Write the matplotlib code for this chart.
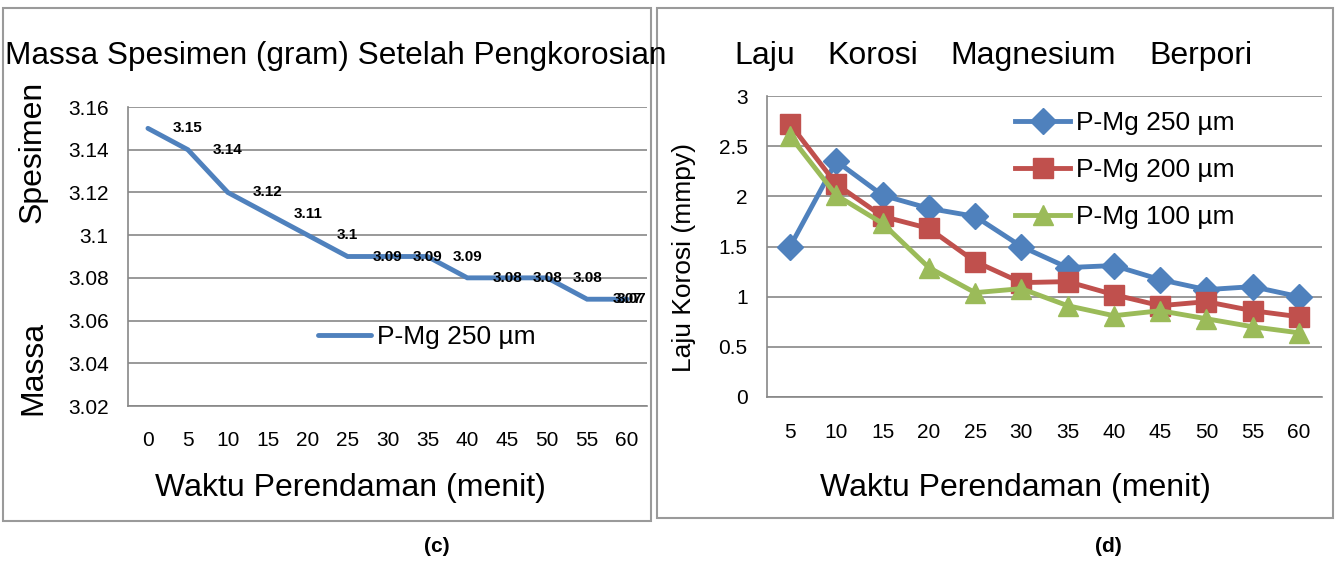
import matplotlib
matplotlib.use('Agg')
from matplotlib import pyplot as plt
from matplotlib.patches import Rectangle
import numpy as np

plt.rcParams['font.family'] = ['Liberation Sans', 'DejaVu Sans']

# panel (c): mass after corrosion
waktu_c = [0, 5, 10, 15, 20, 25, 30, 35, 40, 45, 50, 55, 60]
massa_250 = [3.15, 3.14, 3.12, 3.11, 3.10, 3.09, 3.09, 3.09, 3.08, 3.08, 3.08, 3.07, 3.07]
label_massa = ['3.15', '3.14', '3.12', '3.11', '3.1', '3.09', '3.09', '3.09', '3.08', '3.08', '3.08', '3.07', '3.07']
yticks_c = [3.02, 3.04, 3.06, 3.08, 3.1, 3.12, 3.14, 3.16]
yticklabels_c = ['3.02', '3.04', '3.06', '3.08', '3.1', '3.12', '3.14', '3.16']

# panel (d): corrosion rate
waktu_d = [5, 10, 15, 20, 25, 30, 35, 40, 45, 50, 55, 60]
laju_250 = [1.50, 2.35, 2.01, 1.88, 1.80, 1.50, 1.29, 1.31, 1.17, 1.07, 1.10, 1.00]
laju_200 = [2.72, 2.12, 1.80, 1.68, 1.35, 1.14, 1.15, 1.02, 0.91, 0.95, 0.86, 0.80]
laju_100 = [2.60, 2.01, 1.73, 1.29, 1.04, 1.08, 0.91, 0.81, 0.86, 0.78, 0.70, 0.64]
yticks_d = [0, 0.5, 1, 1.5, 2, 2.5, 3]
yticklabels_d = ['0', '0.5', '1', '1.5', '2', '2.5', '3']

W, H = 1336, 561
BLUE = '#4F81BD'
RED = '#C0504D'
GREEN = '#9BBB59'
GRID = '#878787'

fig = plt.figure(figsize=(W / 100, H / 100), dpi=100)


def rect(x0, y0, x1, y1):
    return [x0 / W, 1 - y1 / H, (x1 - x0) / W, (y1 - y0) / H]


def fx(x):
    return x / W


def fy(y):
    return 1 - y / H


# panel frames
for (x0, y0, x1, y1) in [(3, 8, 651, 521), (657, 8, 1333, 518)]:
    fig.patches.append(Rectangle((x0 / W, 1 - y1 / H), (x1 - x0) / W, (y1 - y0) / H,
                                 transform=fig.transFigure, fill=False,
                                 edgecolor='#9a9a9a', lw=1.5))


def style_axes(ax):
    for s in ['top', 'right']:
        ax.spines[s].set_visible(False)
    for s in ['left', 'bottom']:
        ax.spines[s].set_color(GRID)
        ax.spines[s].set_linewidth(1.2)
    ax.yaxis.grid(True, color=GRID, lw=1.2)
    ax.set_axisbelow(True)
    ax.tick_params(length=0, labelsize=15)
    ax.tick_params(axis='y', pad=14)


# ---- (c)
ax1 = fig.add_axes(rect(128, 107, 647, 406))
xc = np.arange(len(waktu_c))
ax1.plot(xc, massa_250, color=BLUE, lw=3.5, solid_capstyle='round',
         solid_joinstyle='miter', label='P-Mg 250 µm')
ax1.set_xlim(-0.5, len(waktu_c) - 0.5)
ax1.set_ylim(3.02, 3.16)
ax1.set_yticks(yticks_c)
ax1.set_yticklabels(yticklabels_c)
ax1.set_xticks(xc)
ax1.set_xticklabels([str(v) for v in waktu_c])
style_axes(ax1)
ax1.tick_params(axis='x', pad=18)
for i, (v, t) in enumerate(zip(massa_250, label_massa)):
    xl = i + 1 if i < len(xc) - 1 else i + 0.1
    ax1.text(xl, v, t, ha='center', va='center', fontsize=11, fontweight='bold')
ax1.legend(loc='center left', bbox_to_anchor=(fx(318), fy(337)),
           bbox_transform=fig.transFigure, frameon=False, fontsize=19,
           handlelength=2.0, handletextpad=0.25, borderpad=0, borderaxespad=0)

fig.text(fx(5), fy(56), 'Massa Spesimen (gram) Setelah Pengkorosian',
         fontsize=22.7, ha='left', va='center')
fig.text(fx(33), fy(368), 'Massa', fontsize=23, rotation=90, ha='center', va='center')
fig.text(fx(33), fy(152), 'Spesimen', fontsize=23, rotation=90, ha='center', va='center')
fig.text(fx(350), fy(488), 'Waktu Perendaman (menit)', fontsize=23, ha='center', va='center')
fig.text(fx(437), fy(546), '(c)', fontsize=15, fontweight='bold', ha='center', va='center')

# ---- (d)
ax2 = fig.add_axes(rect(767, 96, 1322, 397))
xd = np.arange(len(waktu_d))
ax2.plot(xd, laju_250, color=BLUE, lw=3.5, marker='D', ms=13, label='P-Mg 250 µm')
ax2.plot(xd, laju_200, color=RED, lw=3.5, marker='s', ms=14, label='P-Mg 200 µm')
ax2.plot(xd, laju_100, color=GREEN, lw=3.5, marker='^', ms=15, label='P-Mg 100 µm')
ax2.set_xlim(-0.5, len(waktu_d) - 0.5)
ax2.set_ylim(0, 3)
ax2.set_yticks(yticks_d)
ax2.set_yticklabels(yticklabels_d)
ax2.set_xticks(xd)
ax2.set_xticklabels([str(v) for v in waktu_d])
style_axes(ax2)
ax2.tick_params(axis='x', pad=19)
fig.text(fx(684), fy(257), 'Laju Korosi (mmpy)', fontsize=19, rotation=90,
         ha='center', va='center')
ax2.legend(loc='upper left', bbox_to_anchor=(fx(1015), fy(111)),
           bbox_transform=fig.transFigure, frameon=False, fontsize=19,
           handlelength=2.1, handletextpad=0.2, labelspacing=0.88,
           borderpad=0, borderaxespad=0, numpoints=1)

for word, xc_ in zip(['Laju', 'Korosi', 'Magnesium', 'Berpori'], [765, 873, 1033, 1201]):
    fig.text(fx(xc_), fy(56), word, fontsize=23, ha='center', va='center')
fig.text(fx(1015), fy(488), 'Waktu Perendaman (menit)', fontsize=23, ha='center', va='center')
fig.text(fx(1108), fy(546), '(d)', fontsize=15, fontweight='bold', ha='center', va='center')

fig.savefig('out.png', dpi=100)
